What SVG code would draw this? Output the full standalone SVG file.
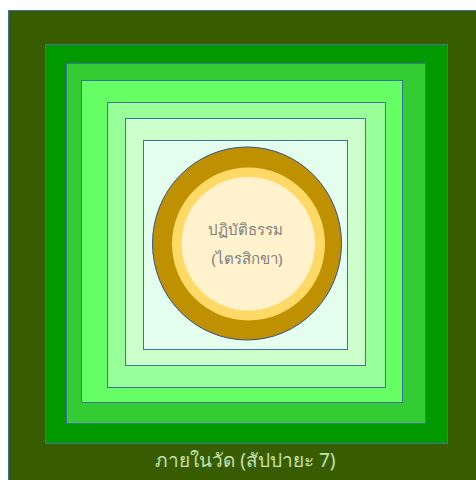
<svg xmlns="http://www.w3.org/2000/svg" width="476" height="480" viewBox="0 0 476 480">
<style>
.b{stroke:#41719c;stroke-width:1}
.t{font-family:"Noto Sans","DejaVu Sans","Liberation Sans",sans-serif;text-anchor:middle}
</style>
<rect width="476" height="480" fill="#ffffff"/>
<g id="outer"><rect class="b" x="8.5" y="10.5" width="470" height="472" fill="#385d00"/>
<text class="t" x="245.5" y="467" font-size="19" fill="#c5e0b4">ภายในวัด (สัปปายะ 7)</text></g>
<g id="r2"><rect class="b" x="45.5" y="44.5" width="402" height="399" fill="#009900"/></g>
<g id="r3"><rect class="b" x="66.5" y="63.5" width="359" height="360" fill="#33cc33"/></g>
<g id="r4"><rect class="b" x="81.5" y="80.5" width="321" height="322" fill="#66ff66"/></g>
<g id="r5"><rect class="b" x="107.5" y="102.5" width="278" height="285" fill="#99ff99"/></g>
<g id="r6"><rect class="b" x="125.5" y="118.5" width="240" height="247" fill="#ccffcc"/></g>
<g id="r7"><rect class="b" x="143.5" y="140.5" width="204" height="209" fill="#e5ffef"/></g>
<g id="core">
<ellipse cx="247" cy="243.5" rx="94.5" ry="96.5" fill="#bf9000" stroke="#2f528f" stroke-width="1"/>
<circle cx="248.5" cy="244" r="76.5" fill="#ffd966"/>
<circle cx="248.3" cy="243.7" r="66.8" fill="#fff2cc"/>
<text class="t" x="245" y="235" font-size="15" fill="#7f7f7f">ปฏิบัติธรรม</text>
<text class="t" x="247" y="264" font-size="15" fill="#7f7f7f">(ไตรสิกขา)</text>
</g>
<g id="connectors"></g>
</svg>
